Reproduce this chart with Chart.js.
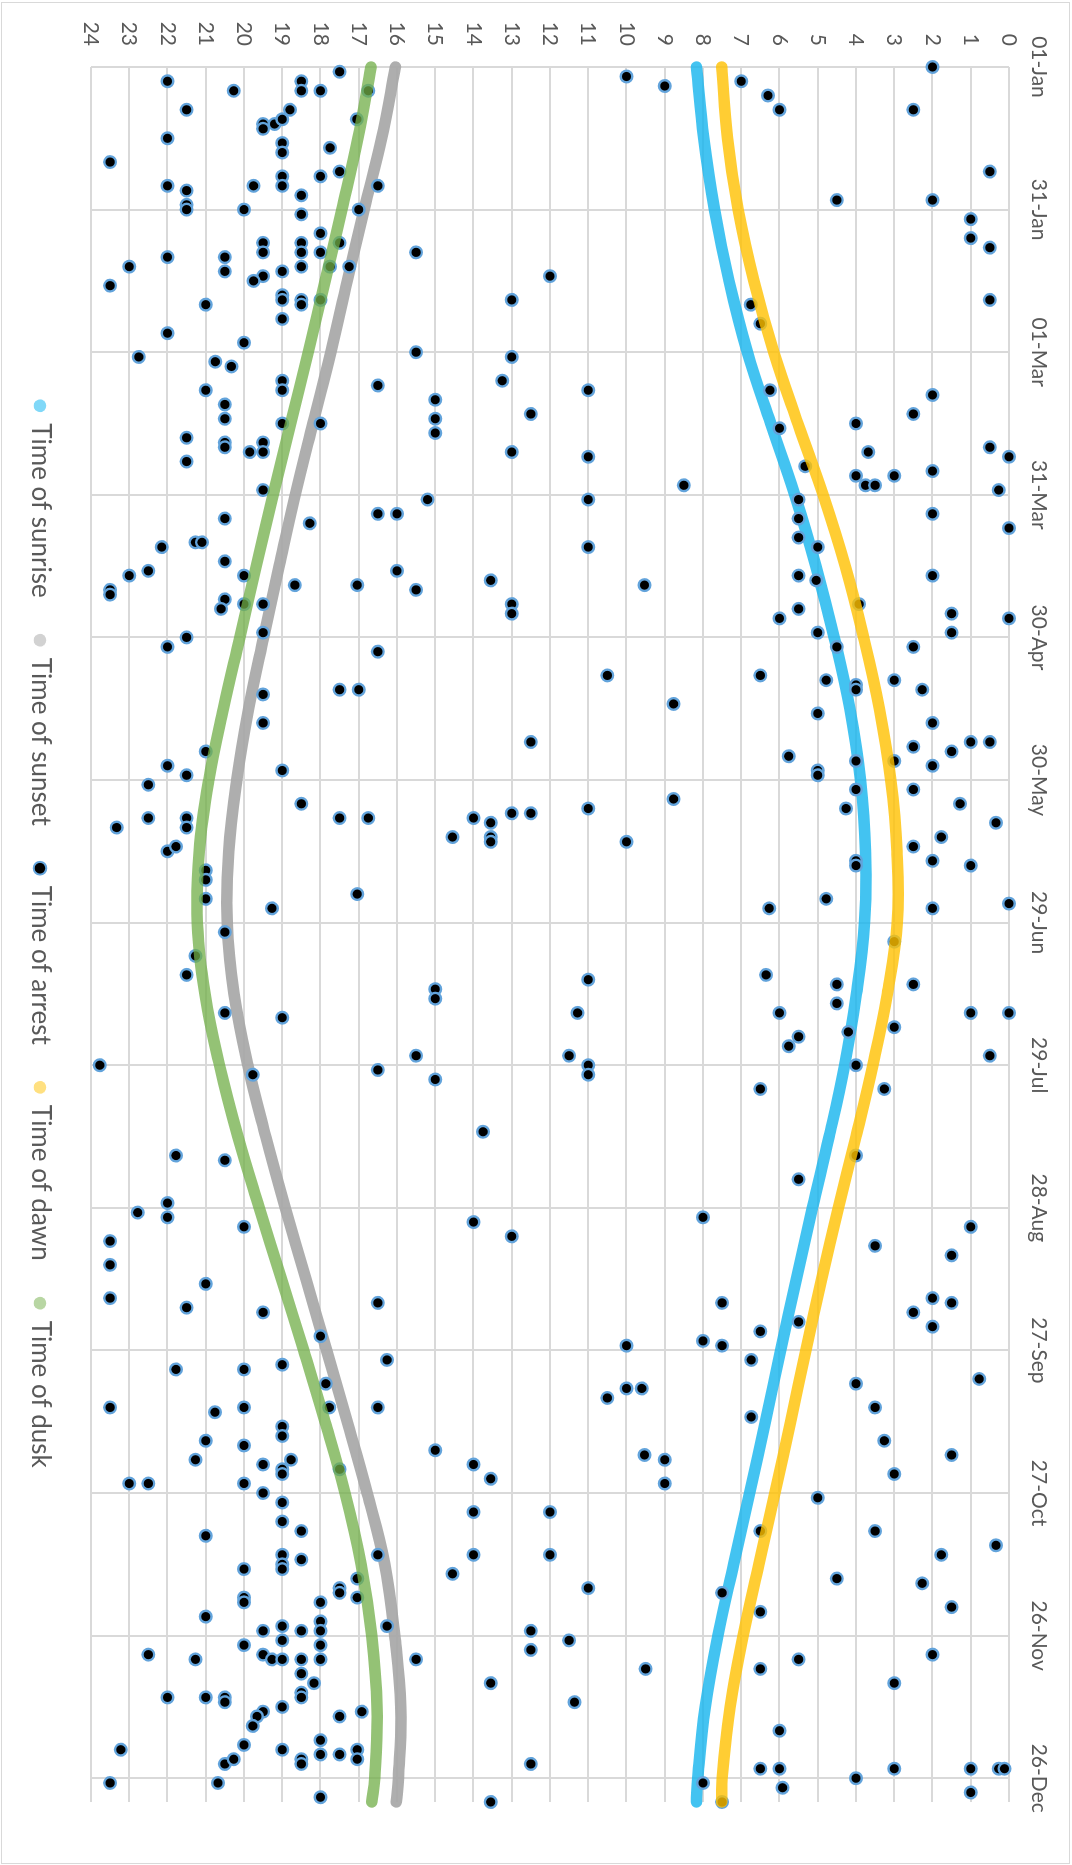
<!DOCTYPE html>
<html>
<head>
<meta charset="utf-8">
<title>Time of arrest against daylight</title>
<script src="https://cdn.jsdelivr.net/npm/chart.js@4.4.1/dist/chart.umd.min.js"></script>
<style>
  html, body { margin: 0; padding: 0; background: #fff; }
  #page { position: relative; width: 1072px; height: 1865px; overflow: hidden; }
  #frame { position: absolute; left: 1px; top: 2px; width: 1067px; height: 1860px; border: 1px solid #d9d9d9; }
  /* the chart is drawn landscape and turned a quarter clockwise */
  #rot { position: absolute; left: 0; top: 0; width: 1865px; height: 1072px;
         transform-origin: 0 0; transform: translate(1072px, 0) rotate(90deg); }
</style>
</head>
<body>
<div id="page">
  <div id="frame"></div>
  <div id="rot"><canvas id="chart" width="1865" height="1072"></canvas></div>
</div>
<script>
// days counted from 01-Jan (leap year)
const curveDays = [0, 15, 30, 45, 60, 75, 90, 105, 120, 135, 150, 165, 180,
                   195, 210, 225, 240, 255, 270, 285, 300, 315, 330, 345, 360, 365];
const sunrise = [8.17, 7.98, 7.70, 7.32, 6.84, 6.23, 5.60, 5.05, 4.57, 4.16, 3.88, 3.75, 3.78,
                 3.99, 4.30, 4.70, 5.14, 5.56, 5.97, 6.37, 6.78, 7.20, 7.61, 7.94, 8.14, 8.17];
const sunset = [16.04, 16.40, 16.86, 17.30, 17.73, 18.20, 18.66, 19.08, 19.49, 19.88, 20.19, 20.40, 20.44,
                20.26, 19.90, 19.43, 18.92, 18.38, 17.84, 17.30, 16.78, 16.32, 16.06, 15.90, 15.96, 16.02];
const dawn = [7.51, 7.36, 7.08, 6.67, 6.15, 5.52, 4.86, 4.28, 3.80, 3.39, 3.09, 2.93, 2.92,
              3.18, 3.56, 4.00, 4.46, 4.90, 5.31, 5.71, 6.12, 6.54, 6.95, 7.29, 7.50, 7.51];
const dusk = [16.68, 17.02, 17.44, 17.88, 18.32, 18.78, 19.24, 19.68, 20.11, 20.54, 20.92, 21.17, 21.22,
              21.02, 20.64, 20.16, 19.60, 19.02, 18.44, 17.88, 17.36, 16.94, 16.66, 16.52, 16.58, 16.66];

// [day, hour]
const arrests = [
  [3,22],[5,20.27],[3,18.5],[5,18.5],[5,18],[1,17.5],[5,16.75],[2,10],[4,9],[3,7],[6,6.3],[9,6],
  [0,2],[9,2.5],[9,21.5],[9,18.8],[12,19.5],[13,19.5],[12,19.2],[11,19],[11,17.05],[15,22],[16,19],
  [18,19],[17,17.75],[20,23.5],[23,19],[23,18],[22,17.5],[25,22],[26,21.5],[25,19.75],[25,19],[27,18.5],
  [25,16.5],[28,4.5],[28,2],[22,0.5],[29,21.5],[30,21.5],[30,20],[31,18.5],[30,17],[32,1],[36,1],[35,18],
  [37,19.5],[39,19.5],[37,18.5],[39,18.5],[39,18],[37,17.5],[40,22],[40,20.5],[42,23],[43,20.5],[43,19],
  [42,18.5],[42,17.75],[42,17.25],[39,15.5],[44,19.5],[45,19.75],[46,23.5],[44,12],[38,0.5],[49,0.5],
  [50,21],[48,19],[49,19],[49,18.5],[50,18.5],[49,18],[49,13],[50,6.75],[54,6.5],[53,19],[56,22],[58,20],
  [61,22.75],[62,20.75],[63,20.33],[60,15.5],[61,13],[66,19],[68,19],[68,21],[71,20.5],[67,16.5],[70,15],
  [66,13.25],[68,11],[68,6.25],[69,2],
  [74,20.5],[74,15],[77,15],[73,12.5],[73,2.5],[75,19],[75,18],[78,21.5],[79,20.5],[80,20.5],[81,19.85],
  [79,19.5],[81,19.5],[81,13],[82,11],[76,6],[75,4],[81,3.68],[80,0.5],[82,0],[84,5.33],[86,4],[88,3.75],
  [88,3.5],[86,3],[85,2],[89,0.27],[83,21.5],[89,19.5],[88,8.5],[91,15.2],[91,11],[91,5.5],[95,5.5],[94,2],
  [97,0],[95,20.5],[96,18.28],[94,16.5],[94,16],[101,22.15],[100,21.27],[100,21.1],[101,11],[99,5.5],
  [101,5],[104,20.5],[107,23],[106,22.5],[107,20],[106,16],[107,5.5],[107,2],
  [110,23.5],[111,23.5],[109,18.67],[109,17.04],[110,15.5],[108,13.55],[109,9.53],[108,5.04],[112,20.5],
  [114,20.6],[113,20],[113,19.5],[113,13],[115,13],[116,6],[114,5.5],[113,3.92],[115,1.5],[119,1.5],
  [116,0],[119,5],[119,19.5],[122,22],[120,21.5],[123,16.5],[122,4.5],[122,2.5],[128,10.5],[128,6.5],
  [129,4.78],[130,4],[131,4],[129,3],[131,2.27],[131,17.5],[131,17],[132,19.5],[134,8.77],[136,5],
  [138,19.5],[138,2],[142,12.5],[142,1],[142,0.5],
  [144,21],[147,22],[149,21.5],[148,19],[151,22.5],[145,5.76],[148,5],[149,5],[146,4],[146,3],[143,2.5],
  [147,2],[144,1.5],[152,4],[152,2.5],[156,4.26],[155,1.28],[159,0.34],[155,18.5],[158,17.5],[158,16.75],
  [158,22.5],[160,23.33],[158,21.5],[160,21.5],[165,22],[164,21.78],[158,14],[159,13.55],[162,13.55],
  [163,13.55],[162,14.55],[157,13],[157,12.5],[156,11],[154,8.77],[163,10],[164,2.5],[162,1.77],[167,4],
  [168,4],[167,2],[168,1],[169,21],[171,21],[175,21],[174,17.04],[177,19.27],[177,6.27],[175,4.78],
  [177,2],[176,0],
  [182,20.5],[187,21.27],[191,21.5],[199,20.5],[200,19],[194,15],[196,15],[192,11],[199,11.28],
  [191,6.35],[199,6],[193,4.5],[197,4.5],[193,2.5],[184,3],[199,1],[199,0],[203,4.2],[202,3],[204,5.5],
  [206,5.76],[208,15.5],[208,11.5],[210,11],[212,11],[210,23.77],[211,16.5],[212,19.77],[213,15],
  [210,4],[208,0.5],
  [215,6.5],[215,3.26],[224,13.75],[229,21.78],[230,20.5],[229,4],[234,5.5],[241,22.78],[239,22],
  [242,22],[244,20],[247,23.5],[243,14],[246,13],[242,8],[244,1],[248,3.5],[250,1.5],
  [252,23.5],[259,23.5],[256,21],[261,21.5],[262,19.5],[260,16.5],[267,18],[260,7.5],[266,6.5],
  [264,5.5],[268,8],[269,7.5],[272,6.74],[269,10],[262,2.5],[259,2],[260,1.5],[265,2],[274,21.78],
  [274,20],[273,19],[272,16.26],[277,17.86],[280,10.5],[278,10],[278,9.6],[277,4],[276,0.78],[282,23.5],
  [283,20.76],[282,20],[282,17.77],[282,16.5],[286,19],[282,3.5],[284,6.74],
  [288,19],[289,21],[290,20],[293,21.27],[294,19.5],[293,18.77],[295,19],[296,19],[295,17.5],[291,15],
  [294,14],[297,13.55],[292,9.53],[293,9],[298,9],[298,23],[298,22.5],[298,20],[300,19.5],[289,3.26],
  [292,1.5],[296,3],[301,5],[302,19],[306,19],[308,18.5],[309,21],[304,14],[304,12],[308,6.5],[308,3.5],
  [311,0.34],[313,1.77],[313,19],[315,19],[316,19],[314,18.5],[313,16.5],[316,20],[313,14],[313,12],
  [317,14.55],[318,4.5],[319,2.27],[320,11],[321,7.5],[320,17.5],[321,17.5],[318,17.04],
  [322,20],[323,20],[323,18],[322,17.04],[326,21],[327,18],[328,16.26],[324,1.5],[325,6.5],[329,19.5],
  [328,19],[329,18.5],[329,18],[329,12.5],[331,11.5],[331,19],[332,20],[332,18],[334,22.5],[335,21.27],
  [334,19.5],[335,19.27],[335,19],[335,18.5],[335,18],[335,15.5],[333,12.5],[337,9.5],[337,6.5],
  [335,5.5],[334,2],[338,18.5],[340,18.17],[342,18.5],[343,18.5],[343,22],[343,21],[343,20.5],
  [344,20.5],[345,19],[346,19.5],[347,19.66],[349,19.77],[347,17.5],[346,16.92],[340,13.55],
  [344,11.36],[340,3],[350,6],[354,23.22],[353,20],[354,19],[352,18],[355,18],[355,17.5],[354,17.04],
  [356,17.04],[356,18.5],[357,18.5],[357,20.5],[356,20.27],[357,12.5],[358,6.5],[358,6],[358,3],
  [358,1],[358,0.27],[358,0.12],[360,4],[361,8],[362,5.92],[361,23.5],[361,20.68],[364,18],[365,13.55],
  [365,7.5],[363,1]
];

const dateTicks = [0, 30, 60, 90, 120, 150, 180, 210, 240, 270, 300, 330, 360];
const dateLabels = ['01-Jan', '31-Jan', '01-Mar', '31-Mar', '30-Apr', '30-May', '29-Jun',
                    '29-Jul', '28-Aug', '27-Sep', '27-Oct', '26-Nov', '26-Dec'];

const seriesNames = ['Time of sunrise', 'Time of sunset', 'Time of arrest', 'Time of dawn', 'Time of dusk'];

const FONT = 'Lato, "Open Sans", sans-serif';
const GRID = '#d9d9d9';
const TEXT = '#595959';

function curve(values) {
  return curveDays.map((d, i) => ({ x: d, y: values[i] }));
}

function band(label, values, color, legendColor, order) {
  return {
    label: label,
    data: curve(values),
    borderColor: color,
    backgroundColor: legendColor,
    legendFill: legendColor,
    borderWidth: 11.5,
    borderCapStyle: 'round',
    borderJoinStyle: 'round',
    tension: 0.4,
    pointRadius: 0,
    fill: false,
    clip: false,
    order: order
  };
}

// keeps the chart area bottom where the reference has it and pushes the legend row down
const legendSpace = {
  id: 'legendSpace',
  afterInit(chart) {
    const fit = chart.legend.fit;
    chart.legend.fit = function () {
      fit.call(this);
      this.height = 91;
    };
  }
};

new Chart(document.getElementById('chart'), {
  type: 'line',
  data: {
    datasets: [
      band(seriesNames[0], sunrise, 'rgba(20,180,238,0.8)', '#80d8f8', 5),
      band(seriesNames[1], sunset, 'rgba(165,165,165,0.9)', '#d2d2d2', 4),
      {
        label: seriesNames[2],
        data: arrests.map(p => ({ x: p[0], y: p[1] })),
        showLine: false,
        pointRadius: 5.8,
        pointBorderWidth: 2.4,
        pointBackgroundColor: '#000',
        pointBorderColor: '#62a3db',
        backgroundColor: '#000',
        borderColor: '#62a3db',
        legendFill: '#000',
        legendStroke: '#62a3db',
        clip: false,
        order: 3
      },
      band(seriesNames[3], dawn, 'rgba(255,192,0,0.8)', '#ffe080', 2),
      band(seriesNames[4], dusk, 'rgba(112,173,71,0.75)', '#b8d6a3', 1)
    ]
  },
  options: {
    responsive: false,
    animation: false,
    events: [],
    layout: { padding: { left: 0, right: 63, top: 0, bottom: 0 } },
    scales: {
      x: {
        type: 'linear',
        position: 'top',
        min: 0,
        max: 365,
        afterBuildTicks(scale) {
          scale.ticks = dateTicks.map(v => ({ value: v }));
        },
        afterFit(scale) { scale.height = 63; },
        grid: { color: GRID, lineWidth: 2, drawTicks: false },
        border: { display: false },
        ticks: {
          autoSkip: false,
          maxRotation: 0,
          padding: 17,
          color: TEXT,
          font: { family: FONT, size: 21 },
          callback: (v) => dateLabels[dateTicks.indexOf(v)]
        }
      },
      y: {
        type: 'linear',
        reverse: true,
        min: 0,
        max: 24,
        afterFit(scale) { scale.width = 67; },
        grid: { color: GRID, lineWidth: 2, drawTicks: false },
        border: { display: false },
        ticks: {
          stepSize: 1,
          autoSkip: false,
          padding: 21,
          color: TEXT,
          font: { family: FONT, size: 21 }
        }
      }
    },
    plugins: {
      tooltip: { enabled: false },
      legend: {
        position: 'bottom',
        fullSize: false,
        labels: {
          usePointStyle: true,
          pointStyle: 'circle',
          boxWidth: 9,
          boxHeight: 9,
          padding: 38,
          color: TEXT,
          font: { family: FONT, size: 26 },
          sort: (a, b) => a.datasetIndex - b.datasetIndex,
          generateLabels(chart) {
            const items = Chart.defaults.plugins.legend.labels.generateLabels(chart);
            items.forEach(it => {
              const ds = chart.data.datasets[it.datasetIndex];
              it.fillStyle = ds.legendFill;
              it.strokeStyle = ds.legendStroke || ds.legendFill;
              it.lineWidth = ds.legendStroke ? 2 : 0;
              it.pointStyle = 'circle';
            });
            return items;
          }
        }
      }
    }
  },
  plugins: [legendSpace]
});
</script>
</body>
</html>
